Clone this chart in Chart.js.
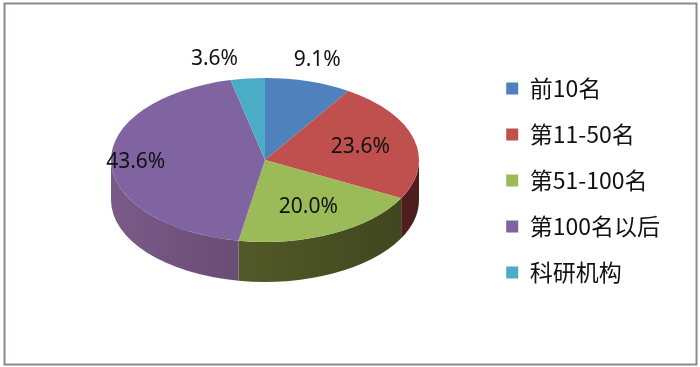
<!DOCTYPE html>
<html lang="zh">
<head>
<meta charset="UTF-8">
<title>pie</title>
<script src="https://cdn.jsdelivr.net/npm/chart.js@4.4.0/dist/chart.umd.min.js"></script>
<style>
  html, body { margin: 0; padding: 0; background: #fff; }
  canvas { display: block; }
</style>
</head>
<body>
<canvas id="myChart" width="700" height="367"></canvas>
<script>
var categories = ['前10名', '第11-50名', '第51-100名', '第100名以后', '科研机构'];
var shares = [9.1, 23.6, 20.0, 43.6, 3.6];
var sliceColors = ['#4F81BD', '#C0504D', '#9BBB59', '#8064A2', '#4BACC6'];
// darker tones for the rim
var rimColors = ['#2f4d71', '#6a2a28', '#565f2a', '#6e5079', '#2d6777'];

// the flat pie gets squeezed into an ellipse with a rim to look 3d
var tilt = { cx: 265, cy: 160, rx: 154, ry: 82, depth: 40 };

function shade(hex, f) {
  var n = parseInt(hex.slice(1), 16);
  var r = Math.min(255, Math.round(((n >> 16) & 255) * f));
  var g = Math.min(255, Math.round(((n >> 8) & 255) * f));
  var b = Math.min(255, Math.round((n & 255) * f));
  return 'rgb(' + r + ',' + g + ',' + b + ')';
}

function toEllipse(ctx, arc) {
  ctx.translate(tilt.cx, tilt.cy);
  ctx.scale(tilt.rx / arc.outerRadius, tilt.ry / arc.outerRadius);
  ctx.translate(-arc.x, -arc.y);
}

var frame = {
  id: 'frame',
  beforeDraw: function(chart) {
    var ctx = chart.ctx;
    ctx.save();
    ctx.fillStyle = '#fff';
    ctx.fillRect(0, 0, chart.width, chart.height);
    ctx.strokeStyle = '#8e8986';
    ctx.lineWidth = 2;
    ctx.strokeRect(4.5, 3.5, 692, 361);
    ctx.restore();
  }
};

var pie3d = {
  id: 'pie3d',
  beforeDatasetsDraw: function(chart) {
    var ctx = chart.ctx;
    var arcs = chart.getDatasetMeta(0).data;
    var a0 = arcs[0];
    var r = a0.outerRadius;
    var d = tilt.depth * r / tilt.ry;
    ctx.save();
    toEllipse(ctx, a0);
    arcs.forEach(function(arc, i) {
      // only the lower half of the rim faces us
      var t1 = Math.max(arc.startAngle, 0);
      var t2 = Math.min(arc.endAngle, Math.PI);
      if (t2 <= t1) return;
      var grad = ctx.createLinearGradient(arc.x - r, 0, arc.x + r, 0);
      grad.addColorStop(0, shade(rimColors[i], 1.12));
      grad.addColorStop(1, shade(rimColors[i], 0.72));
      ctx.beginPath();
      ctx.arc(arc.x, arc.y, r, t1, t2);
      ctx.arc(arc.x, arc.y + d, r, t2, t1, true);
      ctx.closePath();
      ctx.fillStyle = grad;
      ctx.fill();
    });
    ctx.restore();
    // top faces are drawn by chart.js inside this transform
    ctx.save();
    toEllipse(ctx, a0);
  },
  afterDatasetsDraw: function(chart, args, opts) {
    var ctx = chart.ctx;
    ctx.restore();
    var arcs = chart.getDatasetMeta(0).data;
    ctx.save();
    ctx.font = '21px "Noto Sans"';
    ctx.fillStyle = '#111';
    ctx.textAlign = 'center';
    ctx.textBaseline = 'middle';
    arcs.forEach(function(arc, i) {
      var mid = (arc.startAngle + arc.endAngle) / 2;
      var k = opts.radius[i];
      var x = tilt.cx + Math.cos(mid) * tilt.rx * k + opts.shift[i];
      var y = tilt.cy + Math.sin(mid) * tilt.ry * k;
      ctx.fillText(shares[i].toFixed(1) + '%', x, y);
    });
    ctx.restore();
  }
};

new Chart(document.getElementById('myChart'), {
  type: 'pie',
  data: {
    labels: categories,
    datasets: [{
      data: shares,
      backgroundColor: sliceColors,
      borderWidth: 0,
      clip: false
    }]
  },
  options: {
    responsive: false,
    animation: false,
    layout: { padding: { right: 30, bottom: 6 } },
    plugins: {
      tooltip: { enabled: false },
      legend: {
        position: 'right',
        labels: {
          boxWidth: 12,
          boxHeight: 12,
          padding: 23,
          color: '#111',
          font: { family: '"Noto Sans CJK SC"', size: 23 }
        }
      },
      pie3d: {
        radius: [1.27, 0.64, 0.64, 0.84, 1.24],
        shift: [-3, 0, 0, 0, -29]
      }
    }
  },
  plugins: [frame, pie3d]
});
</script>
</body>
</html>
